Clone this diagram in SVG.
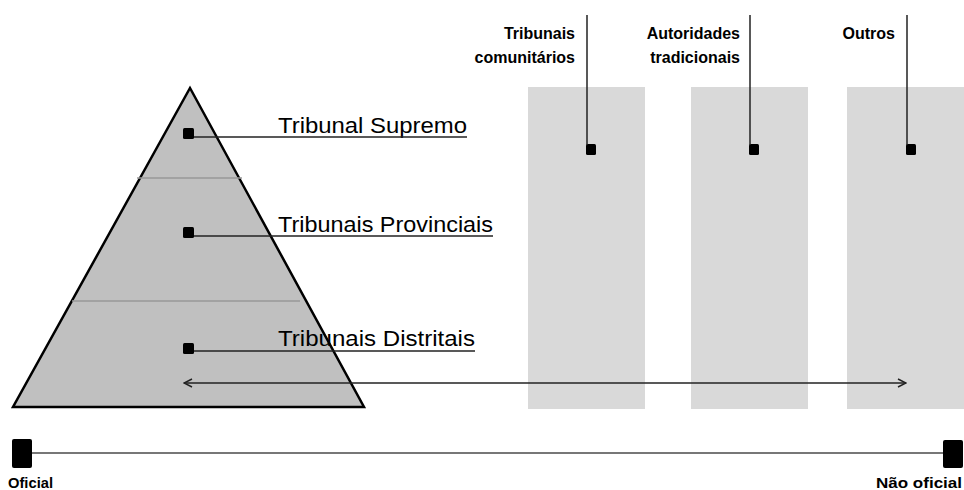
<svg xmlns="http://www.w3.org/2000/svg" width="964" height="490" viewBox="0 0 964 490">
<style>
.lbl{font-family:"Liberation Sans",Arial,sans-serif;font-size:22px;fill:#000}
.hd{font-family:"Liberation Sans",Arial,sans-serif;font-size:16px;font-weight:bold;fill:#000}
.ax{font-family:"Liberation Sans",Arial,sans-serif;font-size:14px;font-weight:bold;fill:#000}
.col{fill:#d9d9d9}
.mk{fill:#000}
.ln{stroke:#222;stroke-width:1.5;fill:none}
.band{stroke:#999;stroke-width:1.5}
</style>
<defs>
<marker id="chev" viewBox="0 0 10 10" refX="9" refY="5" markerWidth="10" markerHeight="10" markerUnits="userSpaceOnUse" orient="auto-start-reverse">
<path d="M1,1 L9,5 L1,9" fill="none" stroke="#222" stroke-width="1.5"/>
</marker>
</defs>
<rect width="964" height="490" fill="#fff"/>
<g id="col-comunitarios"><rect class="col" x="528" y="87" width="117" height="322"/></g>
<g id="col-autoridades"><rect class="col" x="691" y="87" width="117" height="322"/></g>
<g id="col-outros"><rect class="col" x="847" y="87" width="117" height="322"/></g>
<g id="pyramid">
<polygon points="190,88 364,407 13,407" fill="#c0c0c0" stroke="#000" stroke-width="2.5" stroke-linejoin="miter"/>
<line class="band" x1="137" y1="178" x2="242" y2="178"/>
<line class="band" x1="72" y1="301" x2="300" y2="301"/>
</g>
<g id="supremo">
<rect class="mk" x="183" y="128" width="11" height="11" rx="1.5"/>
<text class="lbl" x="278" y="133" textLength="189" lengthAdjust="spacingAndGlyphs">Tribunal Supremo</text>
</g>
<g id="provinciais">
<rect class="mk" x="183" y="227" width="11" height="11" rx="1.5"/>
<text class="lbl" x="278" y="232" textLength="215" lengthAdjust="spacingAndGlyphs">Tribunais Provinciais</text>
</g>
<g id="distritais">
<rect class="mk" x="183" y="343" width="11" height="11" rx="1.5"/>
<text class="lbl" x="278" y="346" textLength="197" lengthAdjust="spacingAndGlyphs">Tribunais Distritais</text>
</g>
<g id="comunitarios">
<rect class="mk" x="586" y="144" width="10" height="11" rx="1.5"/>
<text class="hd" x="575" y="39" text-anchor="end">Tribunais</text>
<text class="hd" x="575" y="63" text-anchor="end">comunitários</text>
</g>
<g id="autoridades">
<rect class="mk" x="749" y="144" width="10" height="11" rx="1.5"/>
<text class="hd" x="740" y="39" text-anchor="end">Autoridades</text>
<text class="hd" x="740" y="63" text-anchor="end">tradicionais</text>
</g>
<g id="outros">
<rect class="mk" x="906" y="144" width="10" height="11" rx="1.5"/>
<text class="hd" x="895" y="39" text-anchor="end">Outros</text>
</g>
<g id="oficial">
<rect class="mk" x="12" y="439" width="20" height="29" rx="2"/>
<text class="ax" x="8" y="488" textLength="45" lengthAdjust="spacingAndGlyphs">Oficial</text>
</g>
<g id="nao-oficial">
<rect class="mk" x="943" y="440" width="20" height="28" rx="2"/>
<text class="ax" x="876" y="488" textLength="86" lengthAdjust="spacingAndGlyphs">Não oficial</text>
</g>
<g id="connectors">
<line class="ln" x1="194" y1="137" x2="467" y2="137"/>
<line class="ln" x1="194" y1="236" x2="493" y2="236"/>
<line class="ln" x1="194" y1="351" x2="475" y2="351"/>
<line class="ln" x1="587" y1="15" x2="587" y2="145"/>
<line class="ln" x1="750" y1="15" x2="750" y2="145"/>
<line class="ln" x1="907" y1="15" x2="907" y2="145"/>
<line class="ln" x1="184" y1="383" x2="906" y2="383" marker-start="url(#chev)" marker-end="url(#chev)"/>
<line x1="32" y1="453" x2="943" y2="453" stroke="#777" stroke-width="2"/>
</g>
</svg>
